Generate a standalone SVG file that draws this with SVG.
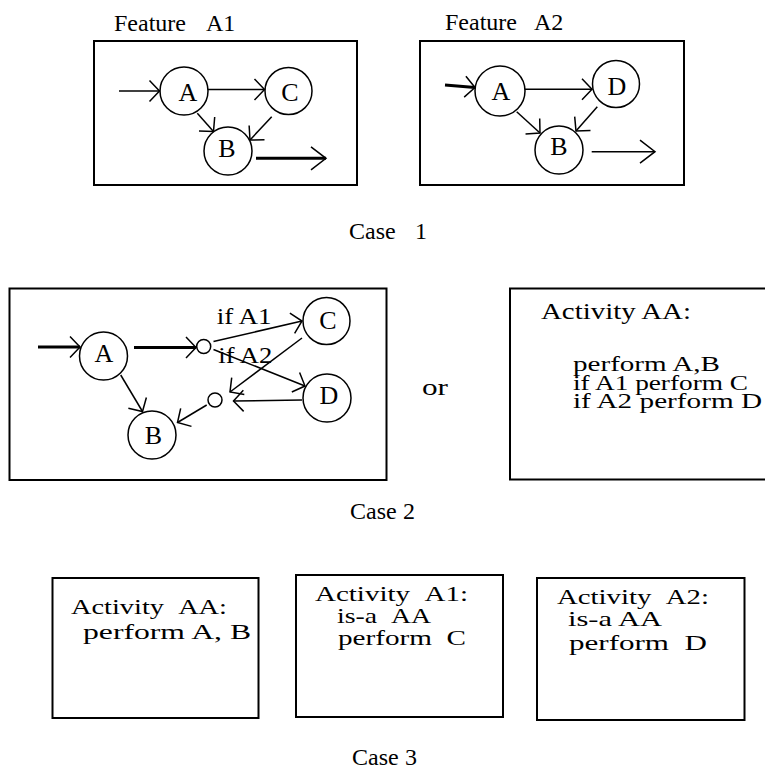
<svg xmlns="http://www.w3.org/2000/svg" width="765" height="773" viewBox="0 0 765 773">
<style>
text{font-family:"Liberation Serif","Times New Roman",serif;fill:#000;}
.t{font-size:24px;}
.s{font-size:22px;}
.n{font-size:26px;text-anchor:middle;}
.box{fill:none;stroke:#000;stroke-width:2;}
.node{fill:#fff;stroke:#000;stroke-width:1.5;}
.e{fill:none;stroke:#000;stroke-width:1.5;marker-end:url(#ah);}
.k{fill:none;stroke:#000;stroke-width:3;marker-end:url(#ah);}
.x{marker-end:url(#ah2);}
</style>
<defs>
<marker id="ah" markerUnits="userSpaceOnUse" orient="auto" viewBox="-16 -14 18 28" markerWidth="18" markerHeight="28" refX="0" refY="0" overflow="visible">
<path d="M-10,-10.5 L0,0 L-10,10.5" fill="none" stroke="#000" stroke-width="1.5"/>
</marker>
<marker id="ah2" markerUnits="userSpaceOnUse" orient="auto" viewBox="-16 -14 18 28" markerWidth="18" markerHeight="28" refX="0" refY="0" overflow="visible">
<path d="M-15,-11.5 L0,0 L-15,11.5" fill="none" stroke="#000" stroke-width="1.5"/>
</marker>
</defs>
<rect width="765" height="773" fill="#fff"/>

<!-- Case 1 : Feature A1 -->
<g id="featureA1">
<text class="t" y="31"><tspan x="114">Feature</tspan><tspan x="206">A1</tspan></text>
<rect class="box" x="94" y="41" width="263" height="144"/>
</g>
<g id="f1-A"><circle class="node" cx="184" cy="91" r="24"/><text class="n" x="188" y="101">A</text></g>
<g id="f1-C"><circle class="node" cx="288.5" cy="91" r="23.5"/><text class="n" x="290" y="101">C</text></g>
<g id="f1-B"><circle class="node" cx="228" cy="151" r="24"/><text class="n" x="227" y="157">B</text></g>

<!-- Case 1 : Feature A2 -->
<g id="featureA2">
<text class="t" y="30"><tspan x="445">Feature</tspan><tspan x="534">A2</tspan></text>
<rect class="box" x="420" y="41" width="264" height="144"/>
</g>
<g id="f2-A"><circle class="node" cx="500" cy="91" r="25"/><text class="n" x="501" y="100">A</text></g>
<g id="f2-D"><circle class="node" cx="616" cy="84" r="23.5"/><text class="n" x="617" y="95">D</text></g>
<g id="f2-B"><circle class="node" cx="559" cy="150" r="24"/><text class="n" x="559" y="155">B</text></g>

<g id="case1"><text class="t" y="239"><tspan x="349">Case</tspan><tspan x="415">1</tspan></text></g>

<!-- Case 2 -->
<g id="case2-graph"><rect class="box" x="9.5" y="288.5" width="377" height="191.5"/></g>
<g id="c2-A"><circle class="node" cx="103.5" cy="356" r="24"/><text class="n" x="104" y="362">A</text></g>
<g id="c2-B"><circle class="node" cx="152" cy="435" r="24"/><text class="n" x="153.5" y="444">B</text></g>
<g id="c2-C"><circle class="node" cx="326.5" cy="321" r="23.5"/><text class="n" x="328" y="329">C</text></g>
<g id="c2-D"><circle class="node" cx="327" cy="398" r="24"/><text class="n" x="329" y="404">D</text></g>
<g id="c2-o1"><circle class="node" cx="203.7" cy="346.5" r="7"/></g>
<g id="c2-o2"><circle class="node" cx="215" cy="400" r="7"/></g>

<g id="or"><text class="t" x="422" y="395" textLength="26" lengthAdjust="spacingAndGlyphs">or</text></g>

<g id="activityAA">
<rect class="box" x="510" y="288.5" width="270" height="191"/>
<text class="t" x="541" y="319" textLength="150" lengthAdjust="spacingAndGlyphs">Activity AA:</text>
<text class="s" x="573" y="370.5" textLength="147" lengthAdjust="spacingAndGlyphs">perform A,B</text>
<text class="s" x="573" y="389.5" textLength="175" lengthAdjust="spacingAndGlyphs">if A1 perform C</text>
<text class="s" x="573" y="408" textLength="189" lengthAdjust="spacingAndGlyphs">if A2 perform D</text>
</g>

<g id="case2"><text class="t" y="519"><tspan x="350">Case</tspan><tspan x="403">2</tspan></text></g>

<!-- Case 3 -->
<g id="c3-AA">
<rect class="box" x="52.5" y="578" width="206" height="140"/>
<text class="s" x="71" y="614" textLength="156" lengthAdjust="spacingAndGlyphs">Activity&#160;&#160;AA:</text>
<text class="s" x="83" y="639" textLength="168" lengthAdjust="spacingAndGlyphs">perform A, B</text>
</g>
<g id="c3-A1">
<rect class="box" x="296" y="575" width="207" height="142"/>
<text class="s" x="315" y="601" textLength="153" lengthAdjust="spacingAndGlyphs">Activity&#160;&#160;A1:</text>
<text class="s" x="337" y="623" textLength="94" lengthAdjust="spacingAndGlyphs">is-a&#160;&#160;AA</text>
<text class="s" x="338" y="645" textLength="128" lengthAdjust="spacingAndGlyphs">perform&#160;&#160;C</text>
</g>
<g id="c3-A2">
<rect class="box" x="537" y="578" width="207.5" height="142"/>
<text class="s" x="557" y="604" textLength="152" lengthAdjust="spacingAndGlyphs">Activity&#160;&#160;A2:</text>
<text class="s" x="568" y="626" textLength="94" lengthAdjust="spacingAndGlyphs">is-a AA</text>
<text class="s" x="569" y="650" textLength="138" lengthAdjust="spacingAndGlyphs">perform&#160;&#160;D</text>
</g>
<g id="case3"><text class="t" y="765"><tspan x="352">Case</tspan><tspan x="405">3</tspan></text></g>

<!-- connectors -->
<g id="connectors">
<line class="e" x1="119" y1="91" x2="159.5" y2="91"/>
<line class="e" x1="208" y1="89.5" x2="264.5" y2="89.5"/>
<line class="e" x1="197.3" y1="113.3" x2="213.5" y2="131.5"/>
<line class="e" x1="271.7" y1="116.7" x2="250" y2="140"/>
<line class="k x" x1="256" y1="158.3" x2="326" y2="158.3"/>

<line class="k" x1="445" y1="85" x2="475" y2="87.5"/>
<line class="e" x1="525" y1="89.3" x2="592" y2="89.3"/>
<line class="e" x1="516.7" y1="111.7" x2="540" y2="133"/>
<line class="e" x1="597.3" y1="106.7" x2="576" y2="131"/>
<line class="e x" x1="591.7" y1="151.7" x2="655" y2="151.7"/>

<line class="k" x1="38" y1="347" x2="80" y2="347"/>
<line class="k" x1="134" y1="347.5" x2="196" y2="347.5"/>
<line class="e" x1="120.7" y1="375" x2="142.5" y2="411.5"/>
<line class="e" x1="206.7" y1="405" x2="177.5" y2="422.5"/>
<line class="e" x1="213.5" y1="341.5" x2="302" y2="321"/>
<line class="e" x1="213.5" y1="349.5" x2="305" y2="386"/>
<line class="e" x1="302" y1="338" x2="230" y2="392"/>
<line class="e" x1="302" y1="400" x2="233.5" y2="401"/>
<text class="t" x="216.7" y="324" textLength="55" lengthAdjust="spacingAndGlyphs">if A1</text>
<text class="t" x="218.3" y="362.5" textLength="54" lengthAdjust="spacingAndGlyphs">if A2</text>
</g>
</svg>
